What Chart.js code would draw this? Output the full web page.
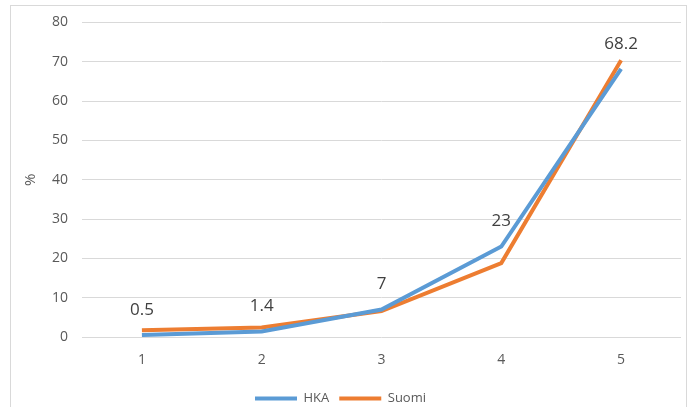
<!DOCTYPE html>
<html>
<head>
<meta charset="utf-8">
<script src="https://cdn.jsdelivr.net/npm/chart.js@4"></script>
<style>
  html, body { margin: 0; padding: 0; background: #ffffff; }
  #wrap { position: relative; width: 695px; height: 407px; overflow: hidden; }
  #frame { position: absolute; left: 10px; top: 5px; width: 677px; height: 420px; border: 1px solid #d9d9d9; box-sizing: border-box; }
  canvas { position: absolute; left: 0; top: 0; }
</style>
</head>
<body>
<div id="wrap">
  <div id="frame"></div>
  <canvas id="c" width="695" height="407"></canvas>
</div>
<script>
const categories = ['1', '2', '3', '4', '5'];
const hkaValues = [0.5, 1.4, 7, 23, 68.2];
const suomiValues = [1.7, 2.4, 6.6, 18.8, 70.4];
const hkaLabels = ['0.5', '1.4', '7', '23', '68.2'];
const seriesNames = ['HKA', 'Suomi'];
const yTitle = '%';

const FONT = '"Open Sans", "Noto Sans", sans-serif';

const labelPlugin = {
  id: 'hkaLabels',
  afterDatasetsDraw(chart) {
    const meta = chart.getDatasetMeta(0);
    const ctx = chart.ctx;
    ctx.save();
    ctx.font = '17px ' + FONT;
    ctx.fillStyle = '#404040';
    ctx.textAlign = 'center';
    ctx.textBaseline = 'middle';
    meta.data.forEach((pt, i) => {
      ctx.fillText(hkaLabels[i], pt.x, pt.y - 25);
    });
    ctx.restore();
  }
};

new Chart(document.getElementById('c'), {
  type: 'line',
  data: {
    labels: categories,
    datasets: [
      { label: seriesNames[0], data: hkaValues, borderColor: '#5B9BD5', backgroundColor: '#5B9BD5', borderWidth: 4, pointRadius: 0, tension: 0 },
      { label: seriesNames[1], data: suomiValues, borderColor: '#ED7D31', backgroundColor: '#ED7D31', borderWidth: 4, pointRadius: 0, tension: 0 }
    ]
  },
  options: {
    responsive: false,
    animation: false,
    layout: { padding: { left: 0, right: 14, top: 22, bottom: -8 } },
    plugins: {
      legend: {
        position: 'bottom',
        labels: {
          usePointStyle: true,
          pointStyle: 'line',
          pointStyleWidth: 42,
          color: '#595959',
          font: { family: FONT, size: 13 },
          padding: 10
        }
      },
      tooltip: { enabled: false }
    },
    scales: {
      x: {
        offset: true,
        grid: { display: false },
        border: { display: false },
        ticks: { color: '#595959', font: { family: FONT, size: 14 }, padding: 6.5 },
        afterFit(scale) { scale.height = 45; }
      },
      y: {
        min: 0, max: 80,
        ticks: { stepSize: 10, color: '#595959', font: { family: FONT, size: 14 }, padding: 14 },
        grid: { color: '#d9d9d9', lineWidth: 1, drawTicks: false },
        border: { display: false },
        title: { display: true, text: yTitle, color: '#595959', font: { family: FONT, size: 15 }, padding: { top: 22, bottom: 0 } },
        afterFit(scale) { scale.width = 82; }
      }
    }
  },
  plugins: [labelPlugin]
});
</script>
</body>
</html>
